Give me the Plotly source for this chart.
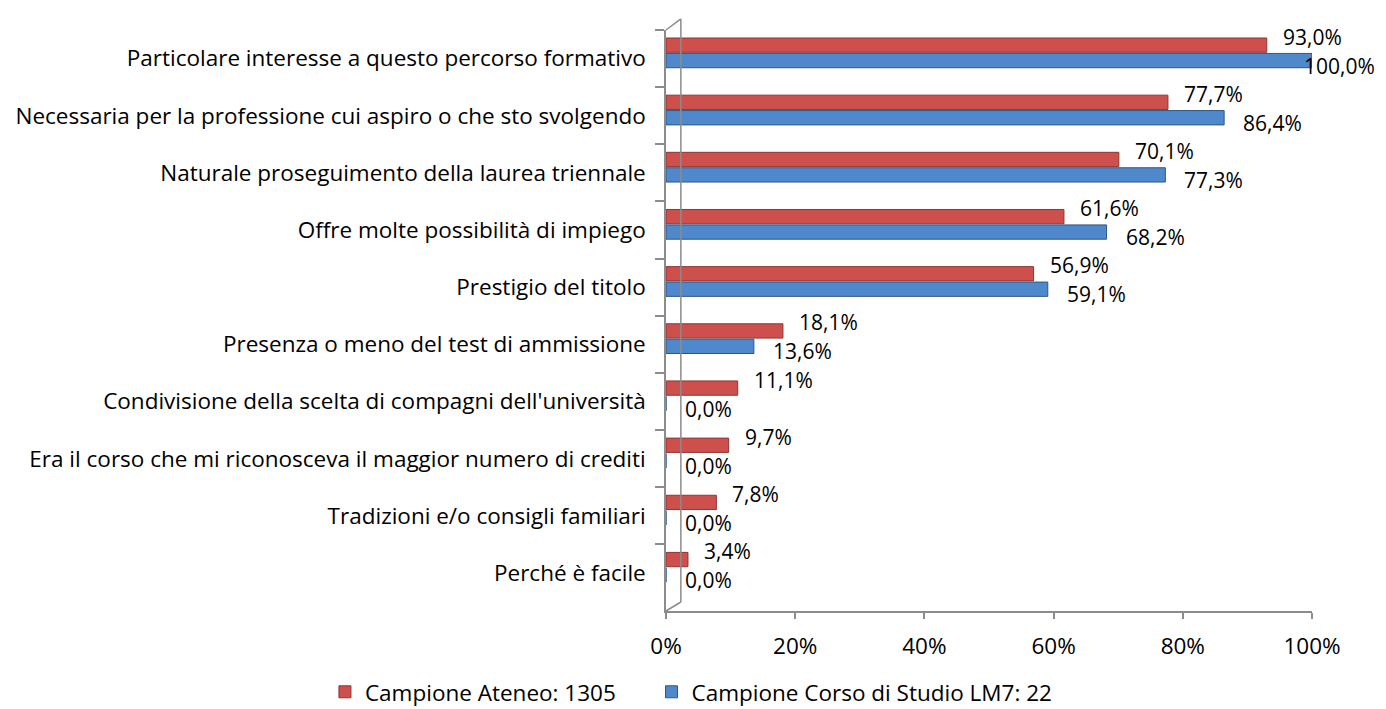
import plotly.graph_objects as go

categories = [
    "Particolare interesse a questo percorso formativo",
    "Necessaria per la professione cui aspiro o che sto svolgendo",
    "Naturale proseguimento della laurea triennale",
    "Offre molte possibilità di impiego",
    "Prestigio del titolo",
    "Presenza o meno del test di ammissione",
    "Condivisione della scelta di compagni dell'università",
    "Era il corso che mi riconosceva il maggior numero di crediti",
    "Tradizioni e/o consigli familiari",
    "Perché è facile",
]
ateneo = [93.0, 77.7, 70.1, 61.6, 56.9, 18.1, 11.1, 9.7, 7.8, 3.4]
corso = [100.0, 86.4, 77.3, 68.2, 59.1, 13.6, 0.0, 0.0, 0.0, 0.0]
x_ticks = [0, 20, 40, 60, 80, 100]
x_tick_labels = ["0%", "20%", "40%", "60%", "80%", "100%"]
series_names = ["Campione Ateneo: 1305", "Campione Corso di Studio LM7: 22"]

FONT = "Open Sans"
FS = 22.5
FS_LBL = 21
RED = "#CD504D"
RED_EDGE = "#8E3533"
BLUE = "#5088CC"
BLUE_EDGE = "#2F5683"
GRAY = "#8C8C8C"


def fmt(v):
    return f"{v:.1f}".replace(".", ",") + "%"


fig = go.Figure()
fig.add_trace(go.Bar(
    y=categories, x=ateneo, orientation="h", name=series_names[0],
    width=0.25, offset=-0.36, legend="legend",
    marker=dict(color=RED, line=dict(color=RED_EDGE, width=1)),
    hoverinfo="skip",
))
fig.add_trace(go.Bar(
    y=categories, x=corso, orientation="h", name=series_names[1],
    width=0.25, offset=-0.09, legend="legend2",
    marker=dict(color=BLUE, line=dict(color=BLUE_EDGE, width=1)),
    hoverinfo="skip",
))

annotations = []
for c, v in zip(categories, ateneo):
    annotations.append(dict(
        x=v, y=c, text=fmt(v), showarrow=False, xanchor="left", yanchor="middle",
        xshift=14, yshift=22,
        font=dict(family=FONT, size=FS_LBL, color="#000000"),
    ))
for c, v in zip(categories, corso):
    big = v >= 95
    annotations.append(dict(
        x=v, y=c, text=fmt(v), showarrow=False,
        xanchor="left", yanchor="middle",
        xshift=(-10 if big else 17), yshift=-7,
        font=dict(family=FONT, size=FS_LBL, color="#000000"),
    ))

# 3D frame decoration (back wall edge)
shapes = [
    dict(type="line", xref="x domain", yref="y domain", x0=0.023, x1=0.023, y0=0.0155, y1=1.019,
         line=dict(color=GRAY, width=1.5)),
    dict(type="line", xref="x domain", yref="y domain", x0=0.0, x1=0.023, y0=1.0, y1=1.019,
         line=dict(color=GRAY, width=1.5)),
    dict(type="line", xref="x domain", yref="y domain", x0=0.0, x1=0.023, y0=0.0, y1=0.0155,
         line=dict(color=GRAY, width=1.5)),
]

legend_common = dict(orientation="h", xref="container", yref="container",
                     xanchor="left", yanchor="middle", y=0.024,
                     font=dict(family=FONT, size=FS), itemwidth=30,
                     bgcolor="rgba(0,0,0,0)")

fig.update_layout(
    width=1378, height=701,
    margin=dict(l=658, r=74, t=22, b=98, autoexpand=False),
    paper_bgcolor="white", plot_bgcolor="white",
    barmode="group",
    font=dict(family=FONT, size=FS, color="#000000"),
    showlegend=True,
    legend=dict(x=0.230, **legend_common),
    legend2=dict(x=0.467, **legend_common),
    annotations=annotations,
    shapes=shapes,
)
fig.update_xaxes(
    range=[0, 100], tickvals=x_ticks, ticktext=x_tick_labels,
    showline=True, linecolor=GRAY, linewidth=1.5,
    ticks="outside", ticklen=6, tickcolor=GRAY, tickwidth=1.5,
    showgrid=False, zeroline=False, ticklabelstandoff=8, automargin=False,
    tickfont=dict(family=FONT, size=FS),
)
fig.update_yaxes(
    autorange="reversed", type="category",
    showline=True, linecolor=GRAY, linewidth=1.5,
    ticks="outside", ticklen=9, tickcolor=GRAY, tickwidth=1.5, tickson="boundaries",
    showgrid=False, ticklabelstandoff=14, automargin=False,
    tickfont=dict(family=FONT, size=FS),
)

fig.write_html("out.html")
